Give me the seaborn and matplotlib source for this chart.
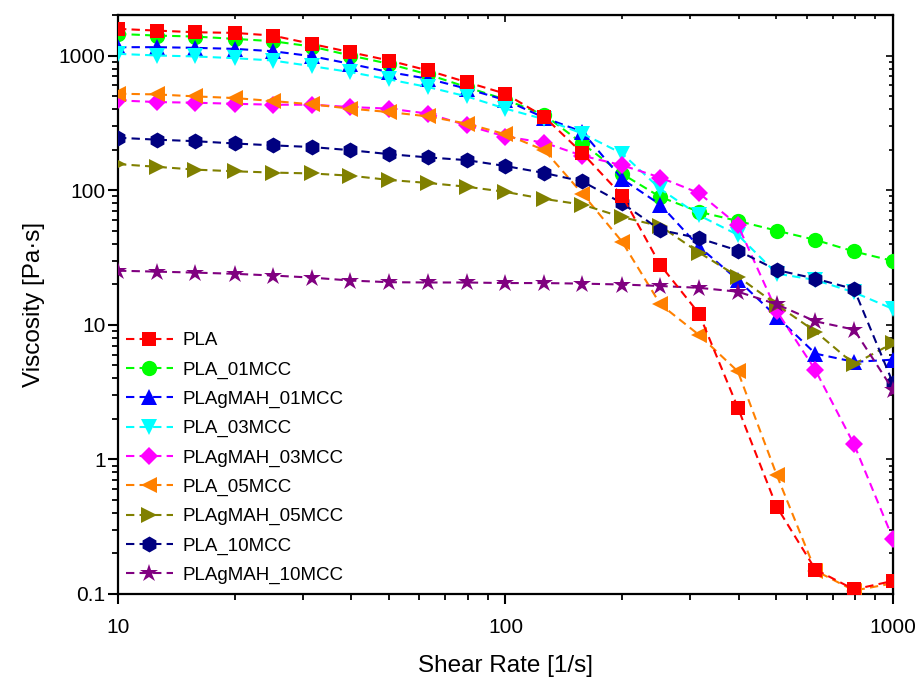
import numpy as np
import pandas as pd
import matplotlib
matplotlib.use("Agg")
import matplotlib.pyplot as plt
import matplotlib.ticker as mticker
import seaborn as sns

# shear rates (1/s), 10 points per decade
shear_rate = [10, 12.6, 15.8, 20, 25.1, 31.6, 39.8, 50.1, 63.1, 79.4, 100,
              126, 158, 200, 251, 316, 398, 501, 631, 794, 1000]

# viscosity (Pa.s)
pla = [1577, 1531, 1489, 1472, 1406, 1220, 1058, 918, 774, 634, 520,
       350, 188, 91, 27.8, 12.1, 2.42, 0.446, 0.152, 0.108, 0.125]
pla_01mcc = [1446, 1406, 1383, 1329, 1277, 1166, 1000, 867, 723, 583, 470,
             362, 222, 132, 89, 69, 59, 50, 42.7, 35, 29.8]
plagmah_01mcc = [1153, 1153, 1140, 1120, 1076, 989, 867, 753, 672, 567, 466,
                 345, 271, 121, 78, 38, 21.5, 11.5, 6.1, 5.3, 5.5]
pla_03mcc = [1029, 1000, 984, 955, 918, 834, 753, 664, 583, 497, 403,
             336, 263, 187, 102, 65, 46.5, 24, 21.5, 17.4, 13.1]
plagmah_03mcc = [464, 451, 446, 438, 431, 431, 414, 403, 370, 303, 250,
                 225, 180, 153, 124, 95, 55, 12.7, 4.6, 1.29, 0.258]
pla_05mcc = [520, 514, 497, 483, 459, 434, 403, 380, 353, 312, 260,
             198, 94, 41.4, 14.2, 8.4, 4.5, 0.77, 0.149, 0.106, 0.12]
plagmah_05mcc = [156, 149, 142, 138, 135, 133, 128, 119, 113, 106, 97,
                 86, 78, 63, 54, 34.4, 22.8, 14.1, 8.9, 5.1, 7.3]
pla_10mcc = [245, 237, 231, 222, 215, 209, 198, 185, 175, 167, 151,
             134, 116, 80, 50.6, 43.9, 35.6, 25.5, 22, 18.4, 3.7]
plagmah_10mcc = [25.2, 24.8, 24.4, 23.9, 23.2, 22.4, 21.3, 20.7, 20.6, 20.6, 20.4,
                 20.4, 20.2, 19.9, 19.4, 18.8, 17.6, 14.2, 10.6, 9.2, 3.3]

labels = ["PLA", "PLA_01MCC", "PLAgMAH_01MCC", "PLA_03MCC", "PLAgMAH_03MCC",
          "PLA_05MCC", "PLAgMAH_05MCC", "PLA_10MCC", "PLAgMAH_10MCC"]
series = [pla, pla_01mcc, plagmah_01mcc, pla_03mcc, plagmah_03mcc,
          pla_05mcc, plagmah_05mcc, pla_10mcc, plagmah_10mcc]
colors = ["#FF0000", "#00FF00", "#0000FF", "#00FFFF", "#FF00FF",
          "#FF8000", "#808000", "#000080", "#800080"]
markers = ["s", "o", "^", "v", "D", "<", ">", "h", "*"]
msizes = [10, 11, 11, 11, 9.5, 11, 11, 11.5, 13.5]

sns.set_style("ticks", {"text.color": "black", "axes.labelcolor": "black",
                        "xtick.color": "black", "ytick.color": "black",
                        "axes.edgecolor": "black"})
plt.rcParams["font.family"] = ["Liberation Sans", "DejaVu Sans"]

fig = plt.figure(figsize=(9.17, 6.87), dpi=100)
ax = fig.add_axes([0.1287, 0.1354, 0.845, 0.8428])

for i, (name, vals) in enumerate(zip(labels, series)):
    sns.lineplot(x=shear_rate, y=vals, ax=ax, label=name, color=colors[i],
                 marker=markers[i], markersize=msizes[i], markeredgewidth=0,
                 linestyle=(0, (4, 2.5)), linewidth=1.5,
                 zorder=10 if name == "PLA" else 3 + i * 0.1)

ax.set_xscale("log")
ax.set_yscale("log")
ax.set_xlim(10, 1000)
ax.set_ylim(0.1, 2000)

fmt = mticker.FuncFormatter(lambda v, p: f"{v:g}")
ax.xaxis.set_major_formatter(fmt)
ax.yaxis.set_major_formatter(fmt)
ax.xaxis.set_minor_formatter(mticker.NullFormatter())
ax.yaxis.set_minor_formatter(mticker.NullFormatter())
ax.xaxis.set_minor_locator(mticker.LogLocator(base=10, subs=np.arange(2, 10)))
ax.yaxis.set_minor_locator(mticker.LogLocator(base=10, subs=np.arange(2, 10)))

ax.tick_params(which="major", direction="out", length=7, width=1.5, labelsize=15,
               colors="black")
ax.tick_params(which="minor", direction="out", length=4, width=1.3, colors="black")
ax.tick_params(axis="x", pad=10)
ax.tick_params(axis="y", pad=2)
for s in ax.spines.values():
    s.set_linewidth(1.6)
    s.set_color("black")

# mirrored inward ticks on top and right
top = ax.secondary_xaxis("top")
top.tick_params(which="both", direction="in", labeltop=False, width=1.2)
top.tick_params(which="major", length=5)
top.tick_params(which="minor", length=3)
top.xaxis.set_minor_locator(mticker.LogLocator(base=10, subs=np.arange(2, 10)))
top.xaxis.set_major_formatter(mticker.NullFormatter())
top.xaxis.set_minor_formatter(mticker.NullFormatter())
right = ax.secondary_yaxis("right")
right.tick_params(which="both", direction="in", labelright=False, width=1.2)
right.tick_params(which="major", length=5)
right.tick_params(which="minor", length=3)
right.yaxis.set_minor_locator(mticker.LogLocator(base=10, subs=np.arange(2, 10)))
right.yaxis.set_major_formatter(mticker.NullFormatter())
right.yaxis.set_minor_formatter(mticker.NullFormatter())

ax.set_xlabel("Shear Rate [1/s]", fontsize=17.5, labelpad=13, color="black")
ax.set_ylabel("Viscosity [Pa·s]", fontsize=17.5, labelpad=10, color="black")

leg = ax.legend(loc="upper left", bbox_to_anchor=(0.01, 0.452), frameon=False,
                fontsize=13.5, handlelength=2.5, handletextpad=0.5, labelspacing=0.64,
                borderpad=0, borderaxespad=0, numpoints=1)
for t in leg.get_texts():
    t.set_color("black")

fig.savefig("out.png", dpi=100)
